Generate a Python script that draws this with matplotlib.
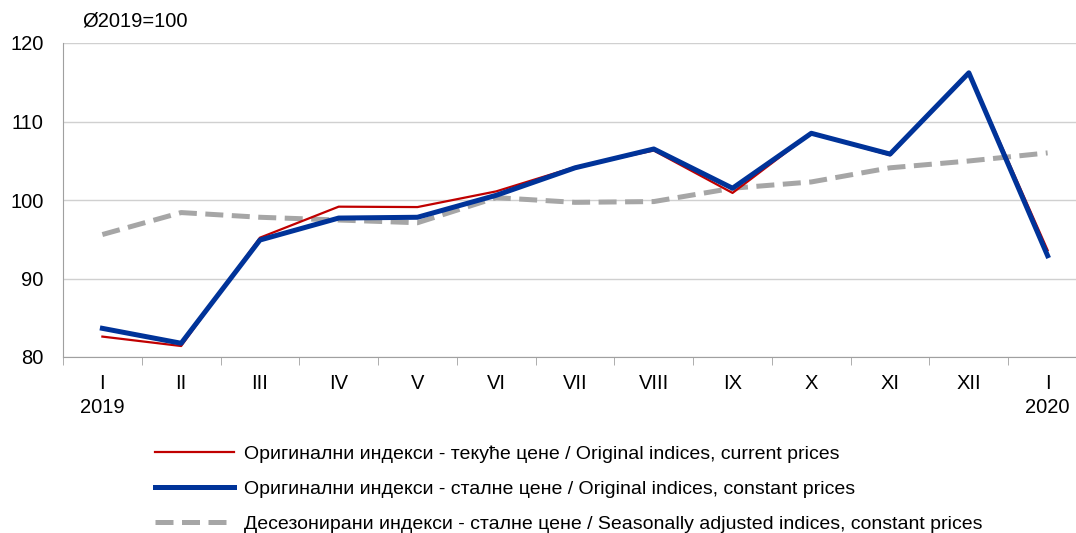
import numpy as np
import matplotlib.pyplot as plt

plt.rcParams['font.family'] = ['Liberation Sans', 'DejaVu Sans']

months = ['I', 'II', 'III', 'IV', 'V', 'VI', 'VII', 'VIII', 'IX', 'X', 'XI', 'XII', 'I']
years = {0: '2019', 12: '2020'}

current = [82.6, 81.4, 95.2, 99.15, 99.1, 101.1, 104.2, 106.3, 100.9, 108.5, 105.7, 116.3, 93.6]
constant = [83.65, 81.75, 94.9, 97.7, 97.8, 100.6, 104.1, 106.5, 101.5, 108.5, 105.85, 116.2, 92.9]
seasonal = [95.6, 98.4, 97.8, 97.45, 97.1, 100.3, 99.7, 99.8, 101.5, 102.3, 104.1, 104.97, 106.0]

labels = ['Оригинални индекси - текуће цене / Original indices, current prices',
          'Оригинални индекси - сталне цене / Original indices, constant prices',
          'Десезонирани индекси - сталне цене / Seasonally adjusted indices, constant prices']

W, H = 1076, 533
fig = plt.figure(figsize=(W / 100, H / 100), dpi=100)
ax = fig.add_axes([63 / W, 1 - 357 / H, (1087 - 63) / W, (357 - 43) / H])

x = np.arange(len(months))
l1, = ax.plot(x, current, color='#C00000', lw=1.6, zorder=3)
l2, = ax.plot(x, constant, color='#003399', lw=3.6, zorder=4)
l3, = ax.plot(x, seasonal, color='#A6A6A6', lw=3.6, dashes=(3.6, 1.7), zorder=2)

ax.set_xlim(-0.5, 12.5)
ax.set_ylim(80, 120)
ax.set_yticks([80, 90, 100, 110, 120])
ax.yaxis.grid(True, color='#D0D0D0', lw=1)
ax.set_axisbelow(True)

ax.set_xticks(x)
ax.set_xticklabels(months, fontsize=14.5)
ax.set_xticks(np.arange(-0.5, 13, 1), minor=True)
ax.tick_params(axis='x', which='major', length=0, pad=12)
ax.tick_params(axis='x', which='minor', length=6, color='#A0A0A0', direction='out')
ax.tick_params(axis='y', length=0, labelsize=14.5, pad=14)
for i, yr in years.items():
    ax.text(i, -0.16, yr, transform=ax.get_xaxis_transform(), ha='center', va='center', fontsize=14.5)

for s in ['top', 'right']:
    ax.spines[s].set_visible(False)
for s in ['left', 'bottom']:
    ax.spines[s].set_color('#A0A0A0')

fig.text(82 / W, 1 - 21 / H, 'Ø2019=100', fontsize=14.5, va='center', ha='left')

fig.legend([l1, l2, l3], labels, loc='upper left', bbox_to_anchor=(137 / W, 1 - 428 / H),
           frameon=False, fontsize=14, handlelength=4.1, handletextpad=0.5, labelspacing=0.88)

fig.savefig('out.png', dpi=100)
